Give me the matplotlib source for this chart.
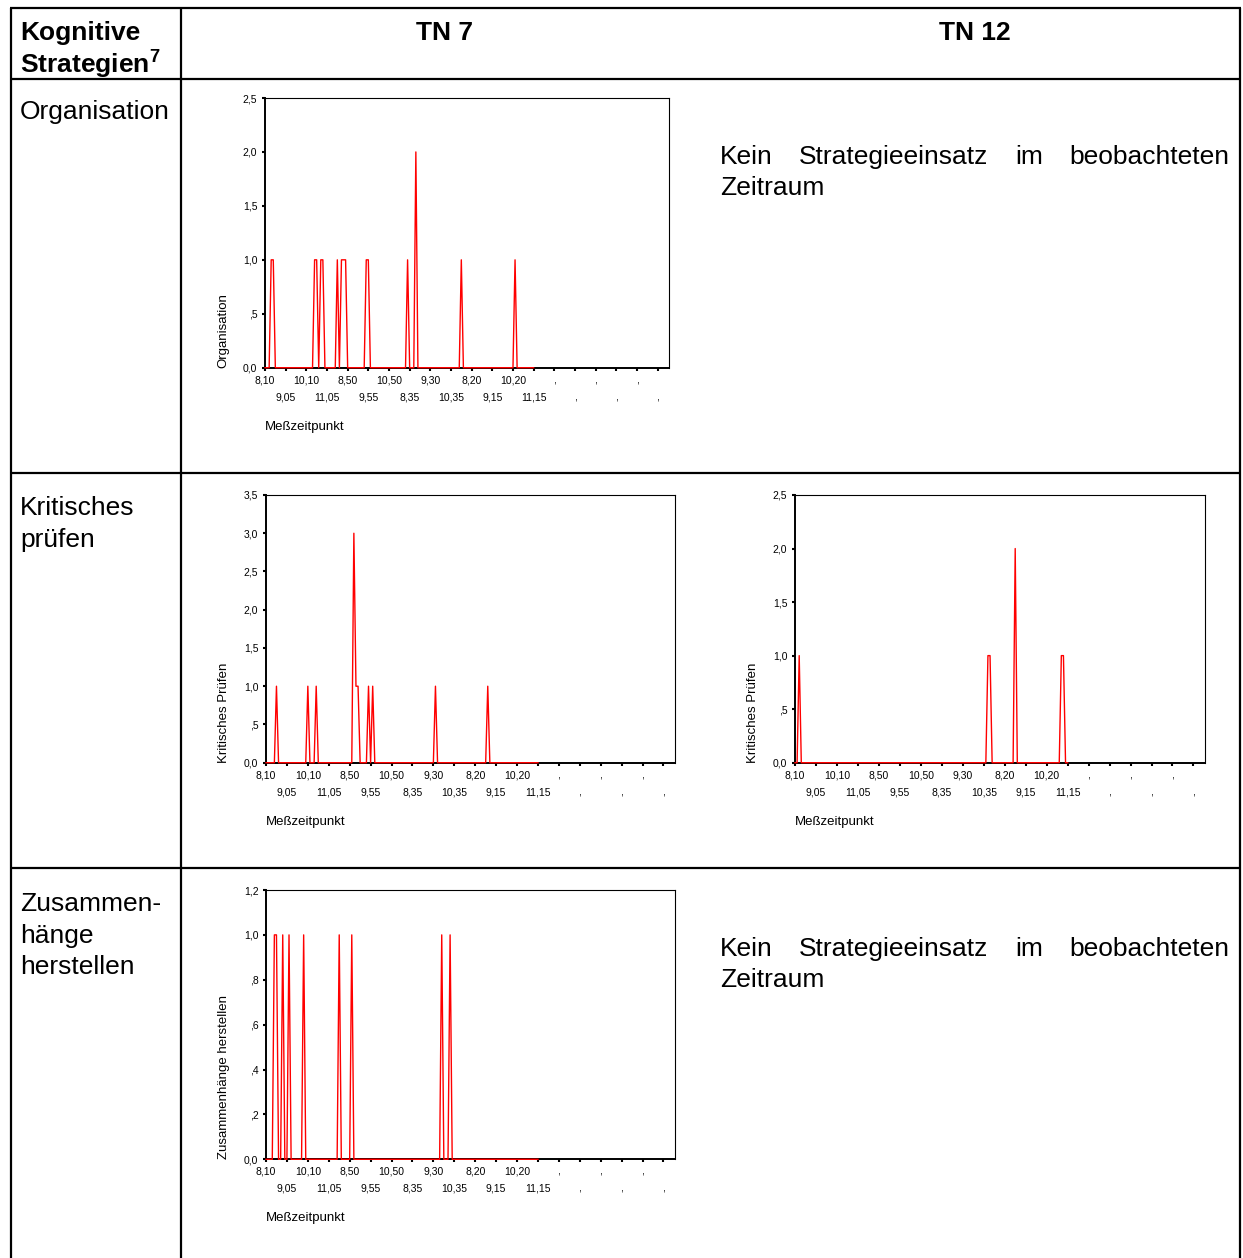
import matplotlib
matplotlib.use("Agg")
import matplotlib.pyplot as plt
import numpy as np

plt.rcParams['font.family'] = ['Liberation Sans', 'DejaVu Sans']
plt.rcParams['mathtext.fontset'] = 'custom'
plt.rcParams['mathtext.bf'] = 'Liberation Sans:bold'
plt.rcParams['mathtext.rm'] = 'Liberation Sans'

W, H = 1243, 1258

# x axis labels (every 10th measurement), empty time slots show as ","
tick_times = ["8,10", "9,05", "10,10", "11,05", "8,50", "9,55", "10,50",
              "8,35", "9,30", "10,35", "8,20", "9,15", "10,20", "11,15",
              ",", ",", ",", ",", ",", ","]
per_label = 10

# one row = one label period (10 measurements)
organisation_tn7 = [
    0, 0, 0, 1, 1, 0, 0, 0, 0, 0,
    0, 0, 0, 0, 0, 0, 0, 0, 0, 0,
    0, 0, 0, 0, 1, 1, 0, 1, 1, 0,
    0, 0, 0, 0, 0, 1, 0, 1, 1, 1,
    0, 0, 0, 0, 0, 0, 0, 0, 0, 1,
    1, 0, 0, 0, 0, 0, 0, 0, 0, 0,
    0, 0, 0, 0, 0, 0, 0, 0, 0, 1,
    0, 0, 0, 2, 0, 0, 0, 0, 0, 0,
    0, 0, 0, 0, 0, 0, 0, 0, 0, 0,
    0, 0, 0, 0, 0, 1, 0, 0, 0, 0,
    0, 0, 0, 0, 0, 0, 0, 0, 0, 0,
    0, 0, 0, 0, 0, 0, 0, 0, 0, 0,
    0, 1, 0, 0, 0, 0, 0, 0, 0, 0,
    0,
]

kritisch_tn7 = [
    0, 0, 0, 0, 0, 1, 0, 0, 0, 0,
    0, 0, 0, 0, 0, 0, 0, 0, 0, 0,
    1, 0, 0, 0, 1, 0, 0, 0, 0, 0,
    0, 0, 0, 0, 0, 0, 0, 0, 0, 0,
    0, 0, 3, 1, 1, 0, 0, 0, 0, 1,
    0, 1, 0, 0, 0, 0, 0, 0, 0, 0,
    0, 0, 0, 0, 0, 0, 0, 0, 0, 0,
    0, 0, 0, 0, 0, 0, 0, 0, 0, 0,
    0, 1, 0, 0, 0, 0, 0, 0, 0, 0,
    0, 0, 0, 0, 0, 0, 0, 0, 0, 0,
    0, 0, 0, 0, 0, 0, 1, 0, 0, 0,
    0, 0, 0, 0, 0, 0, 0, 0, 0, 0,
    0, 0, 0, 0, 0, 0, 0, 0, 0, 0,
    0,
]

kritisch_tn12 = [
    0, 0, 1, 0, 0, 0, 0, 0, 0, 0,
    0, 0, 0, 0, 0, 0, 0, 0, 0, 0,
    0, 0, 0, 0, 0, 0, 0, 0, 0, 0,
    0, 0, 0, 0, 0, 0, 0, 0, 0, 0,
    0, 0, 0, 0, 0, 0, 0, 0, 0, 0,
    0, 0, 0, 0, 0, 0, 0, 0, 0, 0,
    0, 0, 0, 0, 0, 0, 0, 0, 0, 0,
    0, 0, 0, 0, 0, 0, 0, 0, 0, 0,
    0, 0, 0, 0, 0, 0, 0, 0, 0, 0,
    0, 0, 1, 1, 0, 0, 0, 0, 0, 0,
    0, 0, 0, 0, 0, 2, 0, 0, 0, 0,
    0, 0, 0, 0, 0, 0, 0, 0, 0, 0,
    0, 0, 0, 0, 0, 0, 0, 1, 1, 0,
    0,
]

zusammen_tn7 = [
    0, 0, 0, 0, 1, 1, 0, 0, 1, 0,
    0, 1, 0, 0, 0, 0, 0, 0, 1, 0,
    0, 0, 0, 0, 0, 0, 0, 0, 0, 0,
    0, 0, 0, 0, 0, 1, 0, 0, 0, 0,
    0, 1, 0, 0, 0, 0, 0, 0, 0, 0,
    0, 0, 0, 0, 0, 0, 0, 0, 0, 0,
    0, 0, 0, 0, 0, 0, 0, 0, 0, 0,
    0, 0, 0, 0, 0, 0, 0, 0, 0, 0,
    0, 0, 0, 0, 1, 0, 0, 0, 1, 0,
    0, 0, 0, 0, 0, 0, 0, 0, 0, 0,
    0, 0, 0, 0, 0, 0, 0, 0, 0, 0,
    0, 0, 0, 0, 0, 0, 0, 0, 0, 0,
    0, 0, 0, 0, 0, 0, 0, 0, 0, 0,
    0,
]

org_yticks = [0, 0.5, 1.0, 1.5, 2.0, 2.5]
krit7_yticks = [0, 0.5, 1.0, 1.5, 2.0, 2.5, 3.0, 3.5]
krit12_yticks = [0, 0.5, 1.0, 1.5, 2.0, 2.5]
zus_yticks = [0, 0.2, 0.4, 0.6, 0.8, 1.0, 1.2]


def de_fmt(v):
    s = f"{v:.1f}".replace(".", ",")
    if s.startswith("0,") and v != 0:
        s = s[1:]
    return s


def px_rect(left, top, right, bottom):
    return [left / W, 1 - bottom / H, (right - left) / W, (bottom - top) / H]


def draw_chart(fig, box, values, ylabel, yticks):
    left, top, right, bottom = box
    ax = fig.add_axes(px_rect(left, top, right, bottom))
    x = np.arange(len(values))
    ax.plot(x, values, color='#ff0000', lw=1.0, clip_on=False, zorder=3)

    n_labels = len(tick_times)
    ax.set_xlim(0, (n_labels - 0.45) * per_label)
    ax.set_ylim(yticks[0], yticks[-1])

    ax.set_xticks(np.arange(0, n_labels * per_label, 2 * per_label))
    ax.set_xticklabels(tick_times[0::2])
    ax.set_xticks(np.arange(per_label, n_labels * per_label, 2 * per_label), minor=True)
    ax.set_xticklabels(tick_times[1::2], minor=True)
    ax.tick_params(axis='x', which='both', direction='out', length=2, width=1.5,
                   labelsize=7.5, colors='black')
    ax.tick_params(axis='x', which='major', pad=3.5)
    ax.tick_params(axis='x', which='minor', pad=15.5)

    ax.set_yticks(yticks)
    ax.set_yticklabels([de_fmt(v) for v in yticks])
    ax.tick_params(axis='y', direction='out', length=2.5, width=1.5,
                   labelsize=7.5, pad=3)

    for side in ['left', 'bottom']:
        ax.spines[side].set_linewidth(1.4)
    for side in ['top', 'right']:
        ax.spines[side].set_linewidth(0.8)

    h = bottom - top
    w = right - left
    ax.set_xlabel("Meßzeitpunkt", fontsize=9.5, loc='left')
    ax.xaxis.set_label_coords(0, -53 / h)
    ax.set_ylabel(ylabel, fontsize=9.5, loc='bottom')
    ax.yaxis.set_label_coords(-36 / w, 0)
    return ax


fig = plt.figure(figsize=(W / 100, H / 100), dpi=100)

# table grid and texts drawn in pixel coordinates
bg = fig.add_axes([0, 0, 1, 1])
bg.set_xlim(0, W)
bg.set_ylim(H, 0)
bg.axis('off')

grid_kw = dict(color='black', lw=1.6, solid_capstyle='butt')
for y in [8, 79, 473, 868]:
    bg.plot([10, 1241], [y, y], **grid_kw)
for x in [11, 181, 1240]:
    bg.plot([x, x], [8, H], **grid_kw)

big = 19
bg.text(20, 33, "Kognitive", fontsize=big, fontweight='bold', va='center')
bg.text(20, 64, r"Strategien$^{\mathbf{7}}$", fontsize=big, fontweight='bold', va='center')
bg.text(445, 33, "TN 7", fontsize=big, fontweight='bold', va='center', ha='center')
bg.text(975, 33, "TN 12", fontsize=big, fontweight='bold', va='center', ha='center')

bg.text(20, 112, "Organisation", fontsize=big, va='center')
bg.text(20, 508, "Kritisches", fontsize=big, va='center')
bg.text(20, 540, "prüfen", fontsize=big, va='center')
bg.text(20, 904, "Zusammen-", fontsize=big, va='center')
bg.text(20, 936, "hänge", fontsize=big, va='center')
bg.text(20, 967, "herstellen", fontsize=big, va='center')

# justified two-line note
for y0 in [157, 949]:
    bg.text(720, y0, "Kein", fontsize=big, va='center')
    bg.text(799, y0, "Strategieeinsatz", fontsize=big, va='center')
    bg.text(1015, y0, "im", fontsize=big, va='center')
    bg.text(1229, y0, "beobachteten", fontsize=big, va='center', ha='right')
    bg.text(720, y0 + 31, "Zeitraum", fontsize=big, va='center')

draw_chart(fig, (265, 98, 669, 367.7), organisation_tn7, "Organisation", org_yticks)
draw_chart(fig, (266, 495, 675, 762.7), kritisch_tn7, "Kritisches Prüfen", krit7_yticks)
draw_chart(fig, (795, 495, 1205, 762.7), kritisch_tn12, "Kritisches Prüfen", krit12_yticks)
draw_chart(fig, (266, 890, 675, 1159.3), zusammen_tn7, "Zusammenhänge herstellen", zus_yticks)

fig.savefig("out.png", dpi=100)
